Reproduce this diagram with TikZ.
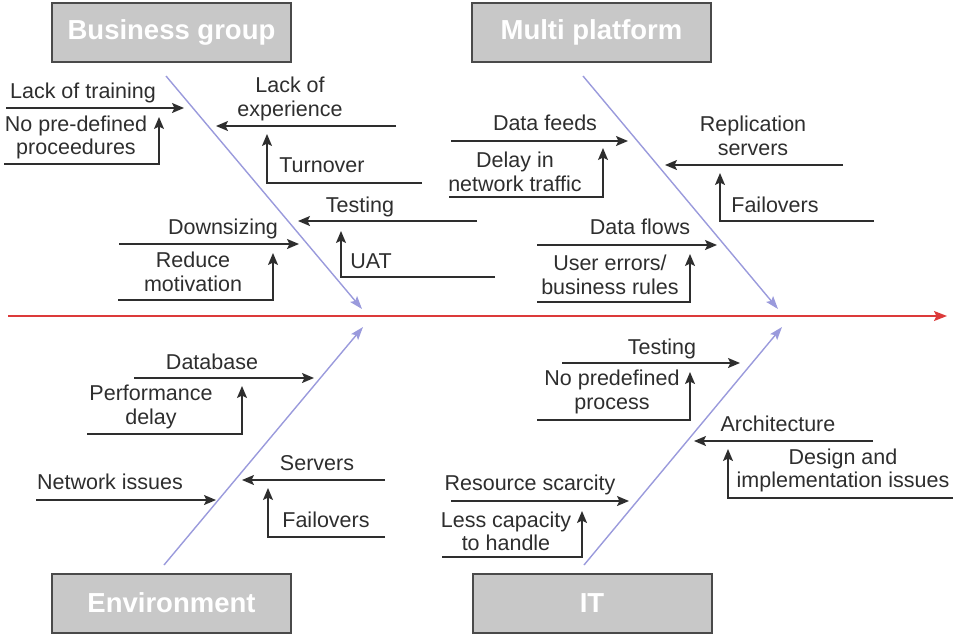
\documentclass[tikz,border=0pt]{standalone}
\usepackage{fontspec}
\setmainfont{Liberation Sans}
\usetikzlibrary{arrows.meta}

\definecolor{boxfill}{HTML}{C8C8C8}
\definecolor{boxline}{HTML}{4A4A4A}
\definecolor{inkgray}{HTML}{2E2E2E}
\definecolor{bonecol}{HTML}{9A9ADC}
\definecolor{spinecol}{HTML}{DC3A3A}

\tikzset{
  catbox/.style={draw=boxline, line width=2pt, fill=boxfill, minimum width=239pt,
    minimum height=59pt, inner sep=0pt, text=white,
    font=\fontsize{27.5}{30}\selectfont\bfseries},
  lbl/.style={text=inkgray, align=center, inner sep=0pt,
    font=\fontsize{21.5}{23.5}\selectfont},
  cause/.style={draw=inkgray, line width=1.6pt,
    -{Stealth[length=12pt,width=10pt,inset=2.5pt]}},
  bone/.style={draw=bonecol, line width=1.4pt,
    -{Stealth[length=13pt,width=9pt,inset=2.5pt]}},
  spine/.style={draw=spinecol, line width=1.5pt,
    -{Stealth[length=13pt,width=10pt,inset=2.5pt]}}
}

\begin{document}
\begin{tikzpicture}[x=1pt,y=-1pt]
\useasboundingbox (0,0) rectangle (956,633);

% ---------- category boxes ----------
\node[catbox] (bg) at (171.5,32.5) {\raisebox{-1.5pt}{Business group}};
\node[catbox] (mp) at (591.5,32.5) {\raisebox{-1.5pt}{Multi platform}};
\node[catbox] (env) at (171.5,603) {Environment};
\node[catbox] (it) at (592,603) {IT};

% ---------- spine ----------
\coordinate (spL) at (8,316);
\coordinate (effect) at (947,316);
\draw[spine] (spL) -- (effect);

% ---------- main bones ----------
\coordinate (bgS) at (166,76);   \coordinate (bgT) at (362,309);
\coordinate (mpS) at (583,76);   \coordinate (mpT) at (778,309);
\coordinate (envS) at (164,565); \coordinate (envT) at (363,327);
\coordinate (itS) at (584,565);  \coordinate (itT) at (782,327);
\draw[bone] (bgS) -- (bgT);
\draw[bone] (mpS) -- (mpT);
\draw[bone] (envS) -- (envT);
\draw[bone] (itS) -- (itT);

% ---------- Business group causes ----------
\node[lbl] (lt) at (83,93) {Lack of training};
\coordinate (ltA) at (6,108);  \coordinate (ltB) at (184,108);
\draw[cause] (ltA) -- (ltB);
\node[lbl] (npd) at (76,137.5) {No pre-defined\\proceedures};
\coordinate (npdA) at (4,164); \coordinate (npdB) at (159,117);
\draw[cause] (npdA) -| (npdB);

\node[lbl] (le) at (290,99) {Lack of\\experience};
\coordinate (leA) at (396,126); \coordinate (leB) at (216,126);
\draw[cause] (leA) -- (leB);
\node[lbl] (to) at (322,165) {Turnover};
\coordinate (toA) at (422,183); \coordinate (toB) at (267,134);
\draw[cause] (toA) -| (toB);

\node[lbl] (te1) at (360,207) {Testing};
\coordinate (te1A) at (477,221); \coordinate (te1B) at (298,221);
\draw[cause] (te1A) -- (te1B);
\node[lbl] (uat) at (371,261) {UAT};
\coordinate (uatA) at (495,277); \coordinate (uatB) at (341,231);
\draw[cause] (uatA) -| (uatB);

\node[lbl] (ds) at (223,229) {Downsizing};
\coordinate (dsA) at (119,244); \coordinate (dsB) at (299,244);
\draw[cause] (dsA) -- (dsB);
\node[lbl] (rm) at (193,272) {Reduce\\motivation};
\coordinate (rmA) at (118,300); \coordinate (rmB) at (273,253);
\draw[cause] (rmA) -| (rmB);

% ---------- Multi platform causes ----------
\node[lbl] (df) at (545,123) {Data feeds};
\coordinate (dfA) at (451,141); \coordinate (dfB) at (628,141);
\draw[cause] (dfA) -- (dfB);
\node[lbl] (dn) at (515,172) {Delay in\\network traffic};
\coordinate (dnA) at (449,197); \coordinate (dnB) at (603,148);
\draw[cause] (dnA) -| (dnB);

\node[lbl] (rs) at (753,136) {Replication\\servers};
\coordinate (rsA) at (843,165); \coordinate (rsB) at (665,165);
\draw[cause] (rsA) -- (rsB);
\node[lbl] (fo1) at (775,205) {Failovers};
\coordinate (fo1A) at (874,221); \coordinate (fo1B) at (720,173);
\draw[cause] (fo1A) -| (fo1B);

\node[lbl] (dfl) at (640,227) {Data flows};
\coordinate (dflA) at (537,245); \coordinate (dflB) at (717,245);
\draw[cause] (dflA) -- (dflB);
\node[lbl] (ue) at (610,275) {User errors/\\business rules};
\coordinate (ueA) at (537,302); \coordinate (ueB) at (690,254);
\draw[cause] (ueA) -| (ueB);

% ---------- Environment causes ----------
\node[lbl] (db) at (212,362) {Database};
\coordinate (dbA) at (134,378); \coordinate (dbB) at (314,378);
\draw[cause] (dbA) -- (dbB);
\node[lbl] (pd) at (151,407) {Performance\\delay};
\coordinate (pdA) at (87,434); \coordinate (pdB) at (242,386);
\draw[cause] (pdA) -| (pdB);

\node[lbl] (ni) at (110,482) {Network issues};
\coordinate (niA) at (36,500); \coordinate (niB) at (216,500);
\draw[cause] (niA) -- (niB);

\node[lbl] (sv) at (317,463) {Servers};
\coordinate (svA) at (385,480); \coordinate (svB) at (242,480);
\draw[cause] (svA) -- (svB);
\node[lbl] (fo2) at (326,520) {Failovers};
\coordinate (fo2A) at (385,537); \coordinate (fo2B) at (268,488);
\draw[cause] (fo2A) -| (fo2B);

% ---------- IT causes ----------
\node[lbl] (te2) at (662,349) {Testing};
\coordinate (te2A) at (562,363); \coordinate (te2B) at (740,363);
\draw[cause] (te2A) -- (te2B);
\node[lbl] (np) at (612,392) {No predefined\\process};
\coordinate (npA) at (537,420); \coordinate (npB) at (690,372);
\draw[cause] (npA) -| (npB);

\node[lbl] (ar) at (778,424) {Architecture};
\coordinate (arA) at (873,441); \coordinate (arB) at (694,441);
\draw[cause] (arA) -- (arB);
\node[lbl] (di) at (843,470.5) {Design and\\implementation issues};
\coordinate (diA) at (953,498); \coordinate (diB) at (728,449);
\draw[cause] (diA) -| (diB);

\node[lbl] (rsc) at (530,485) {Resource scarcity};
\coordinate (rscA) at (451,501); \coordinate (rscB) at (629,501);
\draw[cause] (rscA) -- (rscB);
\node[lbl] (lc) at (506,531.5) {Less capacity\\to handle};
\coordinate (lcA) at (442,557); \coordinate (lcB) at (582,511);
\draw[cause] (lcA) -| (lcB);
\end{tikzpicture}
\end{document}
